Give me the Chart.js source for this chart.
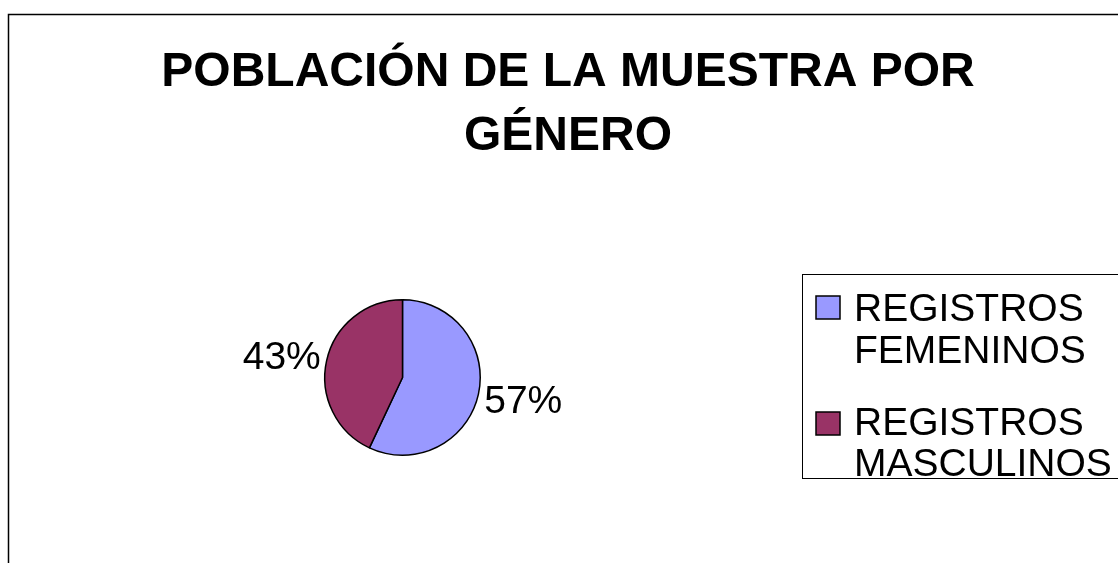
<!DOCTYPE html>
<html>
<head>
<meta charset="utf-8">
<script src="https://cdn.jsdelivr.net/npm/chart.js@4.4.1/dist/chart.umd.min.js"></script>
<style>
  html, body { margin: 0; padding: 0; background: #ffffff; }
  #wrap { width: 1118px; height: 563px; }
</style>
</head>
<body>
<div id="wrap"><canvas id="c" width="1118" height="563"></canvas></div>
<script>
// ---- data ----
const titleLines = ['POBLACIÓN DE LA MUESTRA POR', 'GÉNERO'];
const categories = ['REGISTROS FEMENINOS', 'REGISTROS MASCULINOS'];
const legendLines = [['REGISTROS', 'FEMENINOS'], ['REGISTROS', 'MASCULINOS']];
const values = [57, 43];
const sliceColors = ['#9999FF', '#993366'];

const FONT = '"Liberation Sans", Arial, sans-serif';

const framePlugin = {
  id: 'frame',
  beforeDraw(chart) {
    const ctx = chart.ctx;
    ctx.save();
    ctx.fillStyle = '#ffffff';
    ctx.fillRect(0, 0, chart.width, chart.height);
    ctx.strokeStyle = '#000000';
    ctx.lineWidth = 1.5;
    ctx.beginPath();
    ctx.moveTo(8.5, chart.height + 5);
    ctx.lineTo(8.5, 14.5);
    ctx.lineTo(chart.width + 5, 14.5);
    ctx.stroke();
    ctx.restore();
  }
};

const titlePlugin = {
  id: 'xlTitle',
  afterDraw(chart) {
    const ctx = chart.ctx;
    ctx.save();
    ctx.fillStyle = '#000000';
    ctx.font = 'bold 48px ' + FONT;
    ctx.textAlign = 'center';
    ctx.textBaseline = 'alphabetic';
    const baselines = [86, 150];
    titleLines.forEach((t, i) => ctx.fillText(t, 568, baselines[i]));
    ctx.restore();
  }
};

const labelPlugin = {
  id: 'pctLabels',
  afterDatasetsDraw(chart) {
    const ctx = chart.ctx;
    const meta = chart.getDatasetMeta(0);
    const data = chart.data.datasets[0].data;
    const total = data.reduce((a, b) => a + b, 0);
    ctx.save();
    ctx.fillStyle = '#000000';
    ctx.font = '39px ' + FONT;
    ctx.textBaseline = 'middle';
    meta.data.forEach((arc, i) => {
      const p = arc.getProps(['x', 'y', 'startAngle', 'endAngle', 'outerRadius'], true);
      const mid = (p.startAngle + p.endAngle) / 2;
      const c = Math.cos(mid), s = Math.sin(mid);
      const x = p.x + (p.outerRadius + 6) * c;
      const y = p.y + (p.outerRadius + 24) * s + 3;
      ctx.textAlign = c >= 0 ? 'left' : 'right';
      ctx.fillText(Math.round(data[i] / total * 100) + '%', x, y);
    });
    ctx.restore();
  }
};

const legendPlugin = {
  id: 'xlLegend',
  afterDraw(chart) {
    const ctx = chart.ctx;
    const ds = chart.data.datasets[0];
    ctx.save();
    ctx.strokeStyle = '#000000';
    ctx.lineWidth = 1;
    ctx.strokeRect(802.5, 274.5, 400, 204);
    const itemTop = [296, 412];
    const lineBase = [[321, 363], [435, 476]];
    ctx.font = '39px ' + FONT;
    ctx.textAlign = 'left';
    ctx.textBaseline = 'alphabetic';
    legendLines.forEach((lines, i) => {
      ctx.fillStyle = ds.backgroundColor[i];
      ctx.fillRect(816, itemTop[i], 24, 23);
      ctx.lineWidth = 1.5;
      ctx.strokeRect(816, itemTop[i], 24, 23);
      ctx.fillStyle = '#000000';
      lines.forEach((t, j) => ctx.fillText(t, 854, lineBase[i][j]));
    });
    ctx.restore();
  }
};

new Chart(document.getElementById('c'), {
  type: 'pie',
  data: {
    labels: categories,
    datasets: [{
      data: values,
      backgroundColor: sliceColors,
      borderColor: '#000000',
      borderWidth: 1.5
    }]
  },
  options: {
    responsive: false,
    animation: false,
    events: [],
    layout: { padding: { left: 324, top: 299, right: 637, bottom: 107 } },
    plugins: {
      legend: { display: false },
      title: { display: false },
      tooltip: { enabled: false }
    }
  },
  plugins: [framePlugin, titlePlugin, labelPlugin, legendPlugin]
});
</script>
</body>
</html>
